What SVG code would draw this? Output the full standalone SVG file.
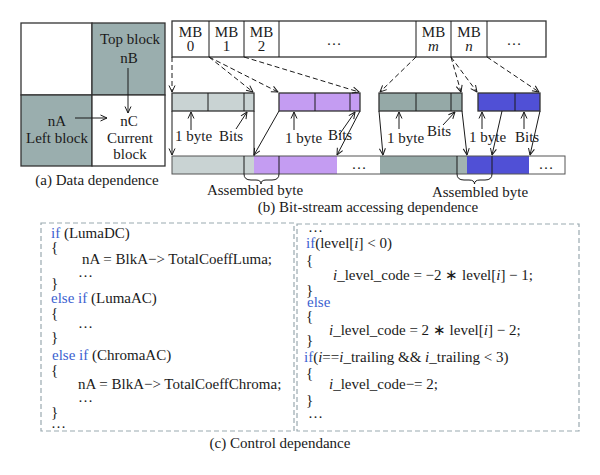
<svg xmlns="http://www.w3.org/2000/svg" width="600" height="475" viewBox="0 0 600 475">
<defs>
<marker id="ah" viewBox="0 0 8 8" refX="7.5" refY="4" markerWidth="8" markerHeight="8" markerUnits="userSpaceOnUse" orient="auto">
<path d="M1,1 L7.5,4 L1,7" fill="none" stroke="#1a1a1a" stroke-width="1"/>
</marker>
<style>
text{font-family:"Liberation Serif","Times New Roman",serif;font-size:15px;fill:#1a1a1a}
.c{text-anchor:middle}
.kw{fill:#3b5fd0}
.it{font-style:italic}
.ln{stroke:#1a1a1a;stroke-width:1;fill:none}
.ar{stroke:#1a1a1a;stroke-width:1;fill:none;marker-end:url(#ah)}
.da{stroke:#1a1a1a;stroke-width:1;fill:none;stroke-dasharray:5,3;marker-end:url(#ah)}
.box{stroke:#333;stroke-width:1.3}
.dbox{fill:none;stroke:#9aa9b0;stroke-width:1.2;stroke-dasharray:5,3}
</style>
</defs>
<rect width="600" height="475" fill="#ffffff"/>

<!-- (a) Data dependence -->
<g id="grid-tl"><rect x="21" y="23" width="71" height="72" fill="#ffffff" class="box"/></g>
<g id="top-block"><rect x="92" y="23" width="73" height="72" fill="#9aaeae" class="box"/>
<text class="c" x="130" y="44">Top block</text><text class="c" x="129" y="63">nB</text></g>
<g id="left-block"><rect x="21" y="95" width="71" height="71" fill="#9aaeae" class="box"/>
<text class="c" x="57" y="126">nA</text><text class="c" x="57" y="143">Left block</text></g>
<g id="current-block"><rect x="92" y="95" width="73" height="71" fill="#ffffff" class="box"/>
<text class="c" x="129" y="126">nC</text><text class="c" x="130" y="143">Current</text><text class="c" x="130" y="159">block</text></g>
<text class="c" x="97" y="185">(a) Data dependence</text>

<!-- (b) MB row -->
<g id="mb-row">
<rect x="172" y="21" width="374" height="36" fill="#ffffff" class="box"/>
<path class="ln" d="M209,21V57M244,21V57M279,21V57M416,21V57M451,21V57M487,21V57" stroke-width="1.3"/>
<text class="c" x="190.5" y="37">MB</text><text class="c" x="190.5" y="51">0</text>
<text class="c" x="226.5" y="37">MB</text><text class="c" x="226.5" y="51">1</text>
<text class="c" x="261.5" y="37">MB</text><text class="c" x="261.5" y="51">2</text>
<text class="c" x="334" y="45">…</text>
<text class="c" x="433.5" y="37">MB</text><text class="c it" x="433.5" y="51">m</text>
<text class="c" x="469" y="37">MB</text><text class="c it" x="469" y="51">n</text>
<text class="c" x="514" y="45">…</text>
</g>

<!-- second row blocks -->
<g id="block-gray"><rect x="172" y="93" width="82" height="18" fill="#c9d3d3" class="box"/><path class="ln" d="M208,93V111M244,93V111"/></g>
<g id="block-purple"><rect x="279" y="93" width="81" height="18" fill="#c49cf2" class="box"/><path class="ln" d="M315,93V111M350,93V111"/></g>
<g id="block-teal"><rect x="379" y="93" width="83" height="18" fill="#95a9a7" class="box"/><path class="ln" d="M416,93V111M451,93V111"/></g>
<g id="block-blue"><rect x="478" y="93" width="62" height="18" fill="#5050d6" class="box"/><path class="ln" d="M515,93V111"/></g>

<!-- assembled bar -->
<g id="bar">
<rect x="172" y="156" width="82" height="18" fill="#c9d3d3"/>
<rect x="254" y="156" width="83" height="18" fill="#c49cf2"/>
<rect x="337" y="156" width="43" height="18" fill="#ffffff"/>
<rect x="380" y="156" width="77" height="18" fill="#95a9a7"/>
<rect x="457" y="156" width="10" height="18" fill="#a2b3b1"/>
<rect x="467" y="156" width="62" height="18" fill="#5050d6"/>
<rect x="529" y="156" width="36" height="18" fill="#ffffff"/>
<rect x="172" y="156" width="393" height="18" fill="none" stroke="#555" stroke-width="1"/>
<path class="ln" d="M244,156V174M279,156V174M457,156V174M492,156V174"/>
<text class="c" x="359" y="169">…</text>
<text class="c" x="546" y="169">…</text>
</g>

<!-- labels -->
<g id="labels-b">
<text x="175" y="141">1 byte</text><text x="219" y="141">Bits</text>
<text x="285" y="143">1 byte</text><text x="328" y="140">Bits</text>
<text x="387" y="143">1 byte</text><text x="427" y="136">Bits</text>
<text x="469" y="142">1 byte</text><text x="515" y="142">Bits</text>
<text class="c" x="255" y="195">Assembled byte</text>
<text class="c" x="480" y="197">Assembled byte</text>
<text class="c" x="368" y="212">(b) Bit-stream accessing dependence</text>
</g>

<!-- connectors -->
<g id="connectors">
<path class="da" d="M172,57V92"/>
<path class="da" d="M209,57L253,92"/>
<path class="da" d="M209,57L278,92"/>
<path class="da" d="M244,57L359,92"/>
<path class="da" d="M416,57L380,92"/>
<path class="da" d="M451,57L461,92"/>
<path class="da" d="M451,57L477,92"/>
<path class="da" d="M487,57L539,92"/>

<path class="ar" d="M191,130V112"/>
<path class="ar" d="M236,129L247,112"/>
<path class="ar" d="M294,130V112"/>
<path class="ar" d="M339,135L355,112"/>
<path class="ar" d="M399,129V112"/>
<path class="ar" d="M443,125L455,112"/>
<path class="ar" d="M482,129V112"/>
<path class="ar" d="M524,129V112"/>

<path class="ar" d="M172,111V155"/>
<path class="ln" d="M254,111V156"/>
<path class="ar" d="M279,111L254,155"/>
<path class="ar" d="M360,111L337,155"/>
<path class="ar" d="M379,111L383,155"/>
<path class="ar" d="M462,111L467,155"/>
<path class="ar" d="M502,111L492,155"/>
<path class="ar" d="M540,111L530,155"/>

<path class="ln" d="M244,174Q244,180 251,180L256,180Q261,180 261,184Q261,180 266,180L272,180Q279,180 279,174"/>
<path class="ln" d="M457,174Q457,180 464,180L469,180Q474.5,180 474.5,184Q474.5,180 480,180L485,180Q492,180 492,174"/>

<path class="ar" d="M128,68V113"/>
<path class="ar" d="M75,118H107"/>
</g>

<!-- (c) Control dependance -->
<g id="code-left">
<rect class="dbox" x="41" y="223" width="253" height="208"/>
<text x="51" y="238"><tspan class="kw">if</tspan> (LumaDC)</text>
<text x="51" y="252">{</text>
<text x="82" y="264">nA = BlkA−&gt; TotalCoeffLuma;</text>
<text x="78" y="277">…</text>
<text x="51" y="288">}</text>
<text x="51" y="303"><tspan class="kw">else if</tspan> (LumaAC)</text>
<text x="51" y="318">{</text>
<text x="78" y="328">…</text>
<text x="51" y="342">}</text>
<text x="52" y="360"><tspan class="kw">else if</tspan> (ChromaAC)</text>
<text x="51" y="375">{</text>
<text x="78" y="389">nA = BlkA−&gt; TotalCoeffChroma;</text>
<text x="78" y="402">…</text>
<text x="51" y="417">}</text>
<text x="51" y="428">…</text>
</g>
<g id="code-right">
<rect class="dbox" x="297" y="224" width="282" height="207"/>
<text x="308" y="232">…</text>
<text x="306" y="248"><tspan class="kw">if</tspan>(level[<tspan class="it">i</tspan>] &lt; 0)</text>
<text x="306" y="265">{</text>
<text x="333" y="280"><tspan class="it">i</tspan>_level_code = −2 ∗ level[<tspan class="it">i</tspan>] − 1;</text>
<text x="306" y="295">}</text>
<text x="307" y="307" class="kw">else</text>
<text x="306" y="321">{</text>
<text x="329" y="335"><tspan class="it">i</tspan>_level_code = 2 ∗ level[<tspan class="it">i</tspan>] − 2;</text>
<text x="306" y="345">}</text>
<text x="304" y="362"><tspan class="kw">if</tspan>(<tspan class="it">i</tspan>==<tspan class="it">i</tspan>_trailing &amp;&amp; <tspan class="it">i</tspan>_trailing &lt; 3)</text>
<text x="306" y="378">{</text>
<text x="329" y="389"><tspan class="it">i</tspan>_level_code−= 2;</text>
<text x="306" y="405">}</text>
<text x="308" y="418">…</text>
</g>
<text class="c" x="280" y="448">(c) Control dependance</text>
</svg>
